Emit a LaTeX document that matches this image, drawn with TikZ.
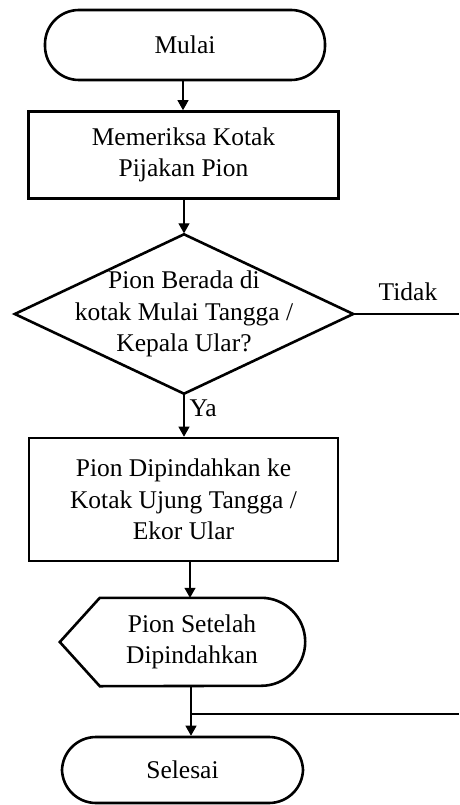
\documentclass[tikz,border=0pt]{standalone}
\usepackage{fontspec}
\setmainfont{Liberation Serif}
\usetikzlibrary{arrows.meta,calc}

\tikzset{
  txt/.style={align=center, font=\fontsize{25.5}{31.5}\selectfont, inner sep=0pt},
  frame/.style={draw=black, line width=2.6pt},
  term/.style={txt, frame, rounded corners=34pt},
  procbox/.style={txt, frame},
  conn/.style={draw=black, line width=1.2pt},
  arr/.style={conn, -{Triangle[width=11pt,length=10pt]}},
  lbl/.style={font=\fontsize{25.5}{30}\selectfont, inner sep=0pt}
}

\begin{document}
\begin{tikzpicture}[x=1pt, y=-1pt]
  \useasboundingbox (0,0) rectangle (459,805);

  % start / end terminators
  \node[term, minimum width=280pt, minimum height=70pt] (start) at (185,45) {Mulai};
  \node[term, minimum width=241pt, minimum height=66pt] (stop) at (182.5,770) {Selesai};

  % process boxes
  \node[procbox, minimum width=310pt, minimum height=87pt] (check) at (183.5,155)
    {Memeriksa Kotak\\Pijakan Pion};
  \node[procbox, minimum width=309pt, minimum height=123pt] (move) at (183.5,499.5)
    {Pion Dipindahkan ke\\Kotak Ujung Tangga /\\Ekor Ular};

  % decision diamond
  \node[txt, minimum width=338pt, minimum height=159pt] (dec) at (184,314)
    {Pion Berada di\\kotak Mulai Tangga /\\Kepala Ular?};
  \draw[frame, line join=miter] (dec.north) -- (dec.east) -- (dec.south) -- (dec.west) -- cycle;

  % display symbol
  \node[txt, minimum width=226pt, minimum height=88pt] (disp) at (192,642)
    {Pion Setelah\\Dipindahkan};
  \draw[frame, line join=miter]
    ([xshift=-19pt]disp.west) -- ([xshift=21pt]disp.north west)
    -- ([xshift=-44pt]disp.north east) arc[start angle=90, end angle=-90, radius=44pt]
    -- ([xshift=21pt]disp.south west) -- cycle;

  % connectors
  \draw[arr] ([xshift=-2pt]start.south) -- ([xshift=-2pt]start.south |- check.north);
  \draw[arr] (dec.north |- check.south) -- ([yshift=1pt]dec.north);
  \draw[arr] (dec.south) -- (dec.south |- move.north)
    node[lbl, pos=0.35, anchor=west, xshift=5pt] {Ya};
  \draw[arr] ([xshift=6.5pt]move.south) -- ([xshift=6.5pt]move.south |- disp.north);
  \draw[arr] ([xshift=-1pt]disp.south) -- ([xshift=-1pt]disp.south |- stop.north);

  % "Tidak" branch leaving to the right
  \coordinate (tidakEnd) at (459,314);
  \draw[conn] (dec.east) -- (tidakEnd);
  \node[lbl] (tidak) at (408,292) {Tidak};

  % return line joining above Selesai
  \coordinate (joinPt) at ([xshift=-1pt]disp.south |- 0,714);
  \coordinate (joinEnd) at (459,714);
  \draw[conn] (joinPt) -- (joinEnd);
\end{tikzpicture}
\end{document}
